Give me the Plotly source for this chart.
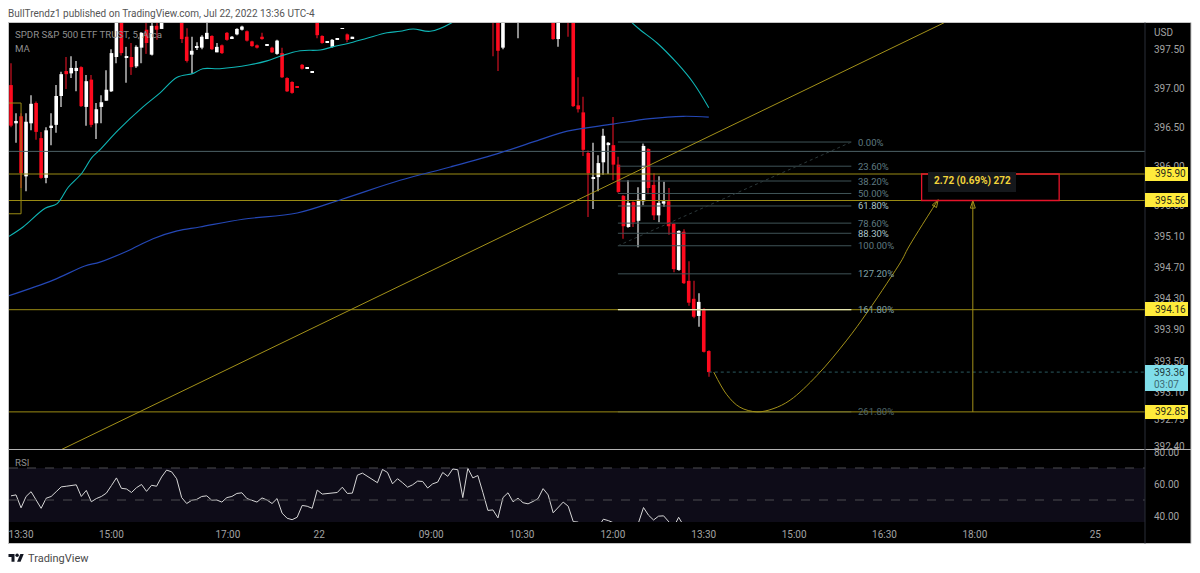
"""SPY 5 minute TradingView snapshot: candles, moving averages, fib levels and RSI."""

import plotly.graph_objects as go

W, H = 1200, 573

# bar number counted from the first candle on the left edge; bars that sit
# wholly above the visible price range are left out
candle_k = list(range(0, 31)) + list(range(34, 69)) + [96, 97, 98, 101, 108, 109, 110, 111] + list(range(112, 140))
opens = [
    397.04, 396.55, 396.64, 395.87, 396.55, 396.81, 396.36, 395.85, 396.49, 396.53, 396.90, 397.22, 397.19, 397.22, 397.27, 396.76,
    397.11, 396.55, 396.76, 396.84, 396.96, 397.40, 398.00, 397.40, 397.40, 397.28, 397.52, 397.75, 397.43, 397.80, 397.76,
    398.00, 397.66, 397.43, 397.52, 397.52, 397.63, 397.67, 397.46, 397.55, 397.71, 397.64, 397.69, 397.75, 397.73, 397.60, 397.55,
    397.66, 397.55, 397.52, 397.44, 397.45, 397.13, 397.08, 397.02, 397.30, 397.25, 397.20, 397.90, 397.67, 397.59, 397.53, 397.63,
    397.76, 397.69, 397.64,
    398.10, 398.00, 397.52, 398.00, 398.00, 397.63, 398.00, 398.10, 398.00, 396.78, 396.69, 396.17, 395.84, 395.86, 396.05, 396.27,
    396.27, 396.02, 395.62, 395.22, 395.54, 395.30, 395.55, 396.22, 395.76, 395.37, 395.52, 395.55, 395.26, 394.67, 395.16, 394.53,
    394.30, 394.08, 394.17, 393.63,
]
highs = [
    397.32, 396.68, 396.68, 396.68, 396.91, 396.83, 396.44, 396.50, 396.68, 397.04, 397.21, 397.40, 397.41, 397.35, 397.28, 397.17,
    397.17, 396.81, 396.91, 397.23, 397.50, 398.10, 398.10, 397.53, 397.58, 397.55, 397.72, 397.90, 397.90, 397.90, 398.00,
    398.10, 397.77, 397.66, 397.59, 397.68, 397.88, 397.68, 397.58, 397.56, 397.72, 397.67, 397.77, 397.80, 397.74, 397.61, 397.56,
    397.71, 397.56, 397.53, 397.62, 397.52, 397.14, 397.09, 397.02, 397.31, 397.26, 397.21, 398.00, 397.68, 397.60, 397.63, 397.64,
    397.77, 397.70, 397.66,
    398.20, 398.10, 398.10, 398.20, 398.10, 398.10, 398.20, 398.20, 398.10, 397.14, 396.89, 396.20, 396.30, 396.14, 396.48, 396.31,
    396.63, 396.12, 395.63, 395.82, 395.55, 395.73, 396.29, 396.23, 395.91, 395.87, 395.80, 395.72, 395.27, 395.18, 395.19, 394.78,
    394.53, 394.37, 394.18, 393.64,
]
lows = [
    396.50, 396.30, 395.72, 395.68, 396.46, 396.34, 395.84, 395.78, 396.27, 396.43, 396.76, 396.99, 397.13, 396.96, 396.76, 396.52,
    396.50, 396.35, 396.55, 396.84, 396.95, 397.32, 397.42, 397.07, 397.17, 397.26, 397.32, 397.44, 397.42, 397.62, 397.76,
    397.58, 397.33, 397.19, 397.49, 397.50, 397.63, 397.49, 397.46, 397.44, 397.61, 397.63, 397.68, 397.74, 397.60, 397.53, 397.51,
    397.62, 397.55, 397.45, 397.43, 397.13, 396.95, 396.93, 397.01, 397.24, 397.25, 397.20, 397.64, 397.57, 397.59, 397.52, 397.63,
    397.76, 397.59, 397.64,
    397.41, 397.22, 397.50, 397.64, 397.62, 397.53, 397.88, 397.66, 396.76, 396.69, 396.13, 395.35, 395.45, 395.68, 395.89, 395.90,
    395.82, 395.66, 395.07, 395.21, 395.22, 394.96, 395.50, 395.64, 395.31, 395.28, 395.48, 395.12, 394.64, 394.66, 394.49, 394.21,
    394.05, 393.94, 393.61, 393.30,
]
closes = [
    396.52, 396.58, 395.91, 396.57, 396.80, 396.44, 395.85, 396.46, 396.52, 396.90, 397.18, 397.18, 397.26, 397.26, 396.77, 397.09,
    396.53, 396.73, 396.82, 396.98, 397.45, 398.00, 397.45, 397.41, 397.27, 397.53, 397.71, 397.58, 397.80, 397.75, 397.90,
    397.63, 397.35, 397.48, 397.53, 397.66, 397.71, 397.50, 397.53, 397.45, 397.62, 397.66, 397.76, 397.79, 397.61, 397.54, 397.52,
    397.63, 397.56, 397.46, 397.61, 397.14, 396.96, 396.94, 397.01, 397.25, 397.26, 397.21, 397.68, 397.58, 397.60, 397.62, 397.64,
    397.77, 397.62, 397.66,
    398.00, 397.48, 398.00, 398.10, 397.63, 398.00, 398.10, 398.00, 396.77, 396.73, 396.21, 395.91, 395.86, 396.04, 396.39, 396.30,
    396.02, 395.67, 395.23, 395.53, 395.28, 395.57, 396.26, 395.72, 395.37, 395.53, 395.55, 395.23, 394.68, 395.17, 394.50, 394.25,
    394.07, 394.26, 393.62, 393.36,
]

# moving averages, read as sample points (the cyan one leaves the top of the chart)
ma_fast_k = [-0.4, 2.4, 6.8, 9.2, 11.4, 14.1, 16.1, 17.7, 21.3, 26.3, 29.7, 33.1, 36.3, 38.2, 41.6, 47.6, 51, 53.6, 57.6, 61.6,
             64.1, 68.1, 70.9, 74.9, 77.5, 80.1, 83.5, 87.8, 92, 108, 118, 123.7, 125.3, 128.7, 132.7, 135.9, 139]
ma_fast = [395.10, 395.22, 395.46, 395.52, 395.73, 395.91, 396.11, 396.21, 396.46, 396.76, 396.94, 397.14, 397.19, 397.25, 397.25,
           397.30, 397.35, 397.41, 397.48, 397.49, 397.53, 397.59, 397.64, 397.71, 397.73, 397.76, 397.73, 397.84, 398.05, 398.60,
           398.25, 397.84, 397.75, 397.58, 397.32, 397.07, 396.75]
ma_slow_k = [-0.4, 8.4, 14.7, 17.7, 23.1, 28.3, 33.1, 37.6, 46.2, 57, 66.1, 77.5, 87.5, 97.4, 105.4, 110.8, 119.9, 127.3, 133.9, 139]
ma_slow = [394.34, 394.54, 394.72, 394.77, 394.91, 395.07, 395.17, 395.22, 395.32, 395.40, 395.58, 395.82, 395.99, 396.17, 396.34,
           396.45, 396.54, 396.61, 396.64, 396.63]

rsi_values = [
    52.6, 53.2, 45.1, 52.2, 55.2, 50.4, 44.8, 51.1, 52.2, 55.2, 58.2, 58.6, 59.2, 59.5, 52.2, 56.0, 48.9, 50.9, 52.2, 54.3,
    59.0, 63.8, 57.3, 56.9, 54.7, 57.7, 59.7, 55.4, 59.2, 58.6, 64.4, 68.7, 67.6, 63.3, 51.5, 47.8, 49.8, 50.4, 52.2, 52.6,
    49.8, 50.0, 48.7, 51.5, 52.2, 54.1, 54.5, 50.9, 49.8, 48.7, 51.3, 50.0, 47.8, 50.9, 41.8, 38.6, 37.7, 39.2, 46.6, 46.1,
    44.8, 56.2, 53.7, 54.1, 54.5, 54.7, 58.0, 54.1, 54.3, 65.5, 66.8, 64.8, 62.7, 60.8, 69.1, 67.2, 60.1, 63.3, 60.8,
    58.0, 59.5, 61.8, 61.6, 57.5, 60.1, 61.2, 67.2, 64.8, 69.4, 68.9, 51.5, 69.8, 63.8, 65.3, 54.7, 43.5, 43.8, 38.8, 51.5,
    54.5, 48.9, 51.1, 48.3, 47.6, 49.1, 50.9, 57.1, 53.2, 42.0, 45.3, 48.7, 46.1, 36.5, 36.2,
    32.0, 30.0, 31.0, 33.0, 38.0, 37.1, 35.8, 33.0, 31.0, 30.0, 32.0, 35.8, 45.3, 40.5, 37.5, 39.9, 40.1, 36.5, 33.0, 39.2,
    34.0, 32.0, 30.0, 28.0, 26.0, 24.0,
]

# time axis
time_k = [2, 20, 43.2, 61.4, 83.7, 101.8, 119.9, 138, 156, 174, 192, 216]
time_labels = ["13:30", "15:00", "17:00", "22", "09:00", "10:30", "12:00", "13:30", "15:00", "16:30", "18:00", "25"]

# price axis
price_ticks = [397.50, 397.00, 396.50, 396.00, 395.50, 395.10, 394.70, 394.30, 393.90, 393.50, 393.10, 392.75, 392.40]
rsi_ticks = [80, 60, 40]

# drawing tools
level_prices = [395.90, 395.56, 394.16, 392.85]
last_price = 393.36
fib_names = ["0.00%", "23.60%", "38.20%", "50.00%", "61.80%", "78.60%", "88.30%", "100.00%", "127.20%", "161.80%", "261.80%"]
fib_prices = [396.31, 396.00, 395.81, 395.65, 395.49, 395.27, 395.14, 394.98, 394.62, 394.16, 392.85]
fib_text_colors = ["#5f7a80", "#5f7a80", "#5f7a80", "#5f7a80", "#a9c4c9", "#5f7a80", "#a9c4c9", "#5f7a80", "#7fa0a6", "#7fa0a6", "#4f666b"]
fib_base_price = 396.19
trend_k = [10.16, 185.9]
trend_price = [392.37, 397.84]
fib_diag_k = [120.9, 167.4]
fib_diag_price = [394.98, 396.31]
step_k = [-0.4, 2, 2, -0.4]
step_price = [396.81, 396.81, 395.39, 395.39]
curve_k = [140.0, 142.6, 145.2, 148.6, 151.8, 155.2, 160.6, 166.5, 170.5, 174.5, 177.5, 178.7, 184.7]
curve_price = [393.36, 393.07, 392.91, 392.85, 392.89, 393.00, 393.32, 393.77, 394.12, 394.50, 394.80, 394.95, 395.57]
measure_k = 191.6
box_k = [181.4, 208.8]

K_LEFT, K_RIGHT = -0.4, 225.9
OLIVE = "#9a8b14"
RED = "#ff0a1e"
AXIS_TEXT = "#a3a3a3"
FONT = "Roboto"


def fx(x):
    return x / W


def fy(y):
    return 1 - y / H


def paper_rect(x0, y0, x1, y1, **kw):
    return dict(type="rect", xref="paper", yref="paper", x0=fx(x0), x1=fx(x1), y0=fy(y0), y1=fy(y1), **kw)


def paper_text(x, y, text, size=10, color=AXIS_TEXT, xanchor="left"):
    return dict(xref="paper", yref="paper", x=fx(x), y=fy(y), text=text, showarrow=False, xanchor=xanchor, yanchor="middle",
                borderpad=0, borderwidth=0, font=dict(size=size, color=color, family=FONT))


fig = go.Figure()

# candles: one bar for the wick, one for the body
for up, wick_color, body_color in [(True, "#8c8c8c", "#ffffff"), (False, "#7c0a14", RED)]:
    rows = [r for r in zip(candle_k, opens, highs, lows, closes) if (r[4] >= r[1]) == up]
    ks = [r[0] for r in rows]
    fig.add_trace(go.Bar(x=ks, y=[r[2] - r[3] for r in rows], base=[r[3] for r in rows], width=0.22,
                         marker=dict(color=wick_color, line=dict(width=0)), hoverinfo="skip", xaxis="x", yaxis="y"))
    fig.add_trace(go.Bar(x=ks, y=[abs(r[4] - r[1]) for r in rows], base=[min(r[1], r[4]) for r in rows], width=0.72,
                         marker=dict(color=body_color, line=dict(width=0)), hoverinfo="skip", xaxis="x", yaxis="y"))


def add_line(xs, ys, color, width=1.0, dash="solid", shape="linear"):
    fig.add_trace(go.Scatter(x=xs, y=ys, mode="lines", line=dict(color=color, width=width, dash=dash, shape=shape),
                             hoverinfo="skip", xaxis="x", yaxis="y"))


add_line(step_k, step_price, OLIVE, 1)
add_line([K_LEFT, K_RIGHT], [fib_base_price, fib_base_price], "#4d6166", 1)
for price in fib_prices:
    add_line([fib_diag_k[0], fib_diag_k[1]], [price, price], "#3f5357", 1)
add_line(fib_diag_k, fib_diag_price, "#2c393b", 1, dash="dot")
for price in level_prices:
    add_line([K_LEFT, K_RIGHT], [price, price], OLIVE, 1)
add_line(fib_diag_k, [394.16, 394.16], "#e6e6b0", 1.2)
add_line([139, K_RIGHT], [last_price, last_price], "#2a5a60", 1, dash="dot")
add_line(trend_k, trend_price, "#a39119", 1)
add_line(ma_fast_k, ma_fast, "#0fb5b5", 1.1, shape="spline")
add_line(ma_slow_k, ma_slow, "#2447b5", 1.2, shape="spline")
add_line(curve_k, curve_price, "#a39119", 1, shape="spline")
add_line([measure_k, measure_k], [level_prices[3], level_prices[1]], "#a39119", 1)

# arrow tips on the two drawn paths
for tip_k, tip_price, angle in [(curve_k[-1], curve_price[-1], 30), (measure_k, level_prices[1], 0)]:
    fig.add_trace(go.Scatter(x=[tip_k], y=[tip_price], mode="markers", hoverinfo="skip", xaxis="x", yaxis="y",
                             marker=dict(symbol="arrow-open", size=8, angle=angle, color="#a39119",
                                         line=dict(color="#a39119", width=1))))

# RSI pane
fig.add_trace(go.Scatter(x=list(range(len(rsi_values))), y=rsi_values, mode="lines", hoverinfo="skip",
                         line=dict(color="#d6d6d6", width=1), xaxis="x2", yaxis="y2"))

shapes = [
    paper_rect(8.5, 22.5, 1191, 543.5, fillcolor="#000000", line=dict(color="#c4c4c4", width=1), layer="below"),
    dict(type="rect", xref="x2", yref="y2", x0=K_LEFT, x1=K_RIGHT, y0=30, y1=70, fillcolor="#0e0c18", line=dict(width=0), layer="below"),
    dict(type="line", xref="x2", yref="y2", x0=K_LEFT, x1=K_RIGHT, y0=70, y1=70, line=dict(color="#4c4c50", width=1, dash="dash")),
    dict(type="line", xref="x2", yref="y2", x0=K_LEFT, x1=K_RIGHT, y0=50, y1=50, line=dict(color="#4c4c50", width=1, dash="dash")),
    dict(type="line", xref="paper", yref="paper", x0=fx(8.5), x1=fx(1191), y0=fy(449.5), y1=fy(449.5), line=dict(color="#b4b4b4", width=1)),
    dict(type="line", xref="paper", yref="paper", x0=fx(1145), x1=fx(1145), y0=fy(22.5), y1=fy(543.5), line=dict(color="#2a2e39", width=1)),
    dict(type="rect", xref="x", yref="y", x0=box_k[0], x1=box_k[1], y0=level_prices[1], y1=level_prices[0], line=dict(color="#e5142a", width=1.3)),
    paper_rect(1145, 167, 1188, 181, fillcolor="#ffeb3b", line=dict(width=0)),
    paper_rect(1145, 193, 1188, 207, fillcolor="#ffeb3b", line=dict(width=0)),
    paper_rect(1145, 302, 1188, 316, fillcolor="#ffeb3b", line=dict(width=0)),
    paper_rect(1145, 405, 1188, 419, fillcolor="#ffeb3b", line=dict(width=0)),
    paper_rect(1145, 365, 1188, 391, fillcolor="#80deea", line=dict(width=0)),
    paper_rect(928, 172, 1016, 192, fillcolor="#15181c", line=dict(width=0)),
]

# TradingView logo in the footer
LOGO_S, LOGO_X, LOGO_Y = 0.43, 8.5, 552.3


def logo_pt(x, y):
    return f"{fx(LOGO_X + LOGO_S * x):.5f},{fy(LOGO_Y + LOGO_S * y):.5f}"


logo_t = "M" + " L".join(logo_pt(*p) for p in [(14, 22), (7, 22), (7, 11), (0, 11), (0, 4), (14, 4)]) + " Z"
logo_v = "M" + " L".join(logo_pt(*p) for p in [(28, 22), (20, 22), (27.5, 4), (35.5, 4)]) + " Z"
for path in (logo_t, logo_v):
    shapes.append(dict(type="path", xref="paper", yref="paper", path=path, fillcolor="#131722", line=dict(width=0)))
shapes.append(dict(type="circle", xref="paper", yref="paper", x0=fx(LOGO_X + LOGO_S * 16), x1=fx(LOGO_X + LOGO_S * 24),
                   y0=fy(LOGO_Y + LOGO_S * 11), y1=fy(LOGO_Y + LOGO_S * 3), fillcolor="#131722", line=dict(width=0)))

annotations = [
    paper_text(8, 13, "BullTrendz1 published on TradingView.com, Jul 22, 2022 13:36 UTC-4", size=10, color="#555555"),
    paper_text(15, 35, "SPDR S&amp;P 500 ETF TRUST, 5, Arca", size=9.7, color="#8f8f8f"),
    paper_text(15, 49, "MA", size=9.7, color="#8f8f8f"),
    paper_text(15, 463, "RSI", size=9.7, color="#8f8f8f"),
    paper_text(1154, 32, "USD", size=10),
    paper_text(28, 558, "TradingView", size=11, color="#4a4a4a"),
    paper_text(972, 181, "<b>2.72 (0.69%) 272</b>", size=10, color="#f2d33a", xanchor="center"),
]
for name, price, color in zip(fib_names, fib_prices, fib_text_colors):
    annotations.append(dict(xref="x", yref="y", x=168.5, y=price, text=name, showarrow=False, xanchor="left", yanchor="middle",
                            borderpad=0, font=dict(size=9.5, color=color, family=FONT)))
for price in level_prices:
    annotations.append(dict(xref="paper", yref="y", x=fx(1154), y=price, text=f"{price:.2f}", showarrow=False, xanchor="left",
                            yanchor="middle", borderpad=0, font=dict(size=10, color="#2a2a1a", family=FONT)))
annotations.append(paper_text(1154, 372, f"{last_price:.2f}", size=10, color="#1f3a40"))
annotations.append(paper_text(1154, 384, "03:07", size=10, color="#3d6a72"))

x_domain = [fx(9), fx(1145)]
fig.update_layout(
    width=W, height=H, margin=dict(l=0, r=0, t=0, b=0), showlegend=False, barmode="overlay",
    paper_bgcolor="#ffffff", plot_bgcolor="rgba(0,0,0,0)", font=dict(family=FONT, color=AXIS_TEXT),
    xaxis=dict(domain=x_domain, range=[K_LEFT, K_RIGHT], showgrid=False, zeroline=False, showticklabels=False, ticks="", anchor="y",
               automargin=False),
    yaxis=dict(domain=[fy(449), fy(23)], range=[392.374, 397.836], side="right", anchor="x", showgrid=False, zeroline=False,
               tickmode="array", tickvals=price_ticks, ticktext=[f"{p:.2f}" for p in price_ticks], automargin=False,
               tickfont=dict(size=10, color=AXIS_TEXT), ticks="outside", ticklen=6, tickcolor="rgba(0,0,0,0)"),
    xaxis2=dict(domain=x_domain, range=[K_LEFT, K_RIGHT], showgrid=False, zeroline=False, anchor="y2", automargin=False,
                tickmode="array", tickvals=time_k, ticktext=time_labels,
                tickfont=dict(size=10, color=AXIS_TEXT), ticks="outside", ticklen=3, tickcolor="rgba(0,0,0,0)"),
    yaxis2=dict(domain=[fy(522), fy(450)], range=[36.25, 81.25], side="right", anchor="x2", showgrid=False, zeroline=False,
                tickmode="array", tickvals=rsi_ticks, ticktext=[f"{v:.2f}" for v in rsi_ticks], automargin=False,
                tickfont=dict(size=10, color=AXIS_TEXT), ticks="outside", ticklen=6, tickcolor="rgba(0,0,0,0)"),
    shapes=shapes, annotations=annotations,
)

fig.write_html("out.html", config={"displayModeBar": False}, post_script="document.body.style.margin='0';")
